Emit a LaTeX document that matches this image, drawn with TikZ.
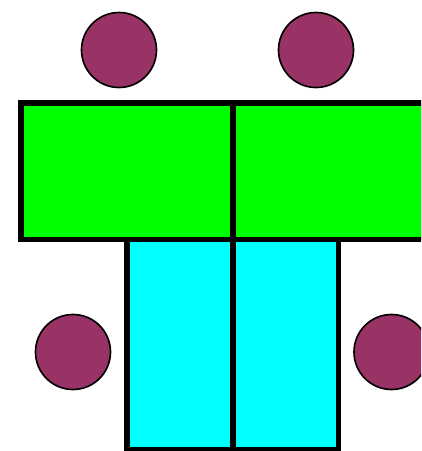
\documentclass[tikz,border=0pt]{standalone}
\usepackage{tikz}
\definecolor{tabG}{RGB}{0,255,0}
\definecolor{tabC}{RGB}{0,255,255}
\definecolor{seatP}{RGB}{153,51,102}

\begin{document}
\begin{tikzpicture}[x=0.03cm,y=-0.03cm,
  tabtop/.style={draw=black,line width=5.5*0.03cm},
  seat/.style={fill=seatP,draw=black,line width=1.4pt}]
\useasboundingbox (0,0) rectangle (421,451);
\clip (0,0) rectangle (421,451);
% chairs
\filldraw[seat] (119,50) circle (37.5);
\filldraw[seat] (316,50) circle (37.5);
\filldraw[seat] (73,352) circle (37.5);
\filldraw[seat] (391.5,352) circle (37.5);
% tables
\filldraw[tabtop,fill=tabC] (127,239.5) rectangle (233,449.5);
\filldraw[tabtop,fill=tabC] (233,239.5) rectangle (338.5,449.5);
\filldraw[tabtop,fill=tabG] (21,103) rectangle (233,239.5);
\filldraw[tabtop,fill=tabG] (233,103) rectangle (445,239.5);
\end{tikzpicture}
\end{document}
